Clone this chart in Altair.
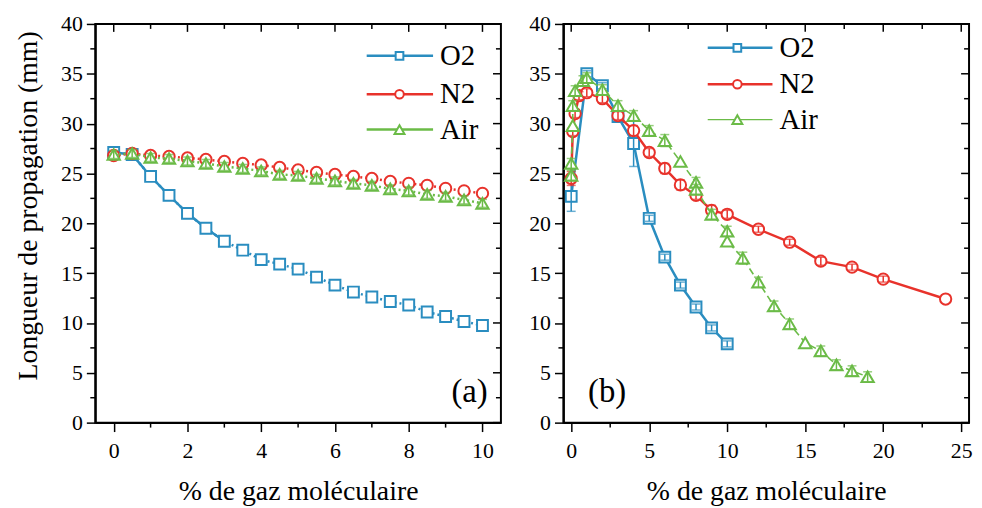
import altair as alt
import pandas as pd

FONT = "Liberation Serif"
SERIES = ["O2", "N2", "Air"]
COLORS = {"O2": "#2a8dc0", "N2": "#e8322b", "Air": "#6bbb47"}
SHAPES = {"O2": "square", "N2": "circle", "Air": "triangle-up"}
SIZES = {"O2": 120, "N2": 130, "Air": 155}
LEG_SIZES = {"O2": 60, "N2": 75, "Air": 100}

# ---------------- Panel (a) data ----------------
a_x = [0, 0.5, 1, 1.5, 2, 2.5, 3, 3.5, 4, 4.5, 5, 5.5, 6, 6.5, 7, 7.5, 8, 8.5, 9, 9.5, 10]
a_o2 = [27.1, 26.9, 24.7, 22.8, 21.0, 19.5, 18.2, 17.3, 16.35, 15.9, 15.4, 14.6, 13.8,
        13.1, 12.6, 12.15, 11.8, 11.1, 10.65, 10.15, 9.75]
a_n2 = [26.8, 27.0, 26.8, 26.7, 26.55, 26.4, 26.2, 26.0, 25.85, 25.6, 25.35, 25.1, 24.9,
        24.7, 24.5, 24.2, 24.0, 23.8, 23.5, 23.25, 23.0]
a_air = [26.9, 27.0, 26.6, 26.5, 26.25, 26.0, 25.7, 25.5, 25.25, 24.9, 24.8, 24.5, 24.25,
         24.0, 23.8, 23.45, 23.25, 22.9, 22.7, 22.35, 22.0]
a_o2_err = [0.0] * 21
a_n2_err = [0.0] * 21
a_air_err = [0.4] * 21

# ---------------- Panel (b) data ----------------
b_o2_x = [0, 1, 2, 3, 4, 5, 6, 7, 8, 9, 10]
b_o2_y = [22.7, 35.0, 33.8, 30.7, 28.0, 20.5, 16.6, 13.8, 11.6, 9.5, 7.9]
b_o2_err = [1.5, 0.3, 0.3, 0.3, 2.3, 0.3, 0.3, 0.3, 0.3, 0.3, 0.3]

b_n2_x = [0, 0.1, 0.25, 0.5, 1, 2, 3, 4, 5, 6, 7, 8, 9, 10, 12, 14, 16, 18, 20, 24]
b_n2_y = [24.5, 29.2, 31.0, 32.8, 33.1, 32.5, 30.8, 29.3, 27.1, 25.5, 23.85, 22.8, 21.3,
          20.9, 19.4, 18.1, 16.2, 15.6, 14.4, 12.4]
b_n2_err = [0.7, 0.4, 0.4, 0.4, 0.4, 0.4, 0.4, 0.5, 0.4, 0.5, 0.5, 0.4, 0.5, 0.4, 0.3,
            0.3, 0.4, 0.3, 0.3, 0.0]

b_air_x = [0, 0, 0.1, 0.1, 0.25, 0.75, 1, 2, 3, 4, 5, 6, 7, 8, 8, 9, 10, 10, 11, 12, 13,
           14, 15, 16, 17, 18, 19]
b_air_y = [24.8, 26.0, 29.8, 31.8, 33.3, 34.3, 34.6, 33.4, 31.8, 30.8, 29.3, 28.3, 26.2,
           24.1, 23.4, 20.9, 19.2, 18.2, 16.5, 14.1, 11.7, 9.9, 8.0, 7.2, 5.8, 5.2, 4.6]
b_air_err = [0.5, 0.5, 0.0, 0.5, 0.5, 0.5, 0.5, 0.5, 0.5, 0.5, 0.5, 0.6, 0.0, 0.5, 0.5,
             0.5, 0.5, 0.0, 0.6, 0.5, 0.5, 0.5, 0.0, 0.5, 0.5, 0.5, 0.5]

# ticks
a_x_major = [0, 2, 4, 6, 8, 10]
a_x_minor = [1, 3, 5, 7, 9]
b_x_major = [0, 5, 10, 15, 20, 25]
b_x_minor = [2.5, 7.5, 12.5, 17.5, 22.5]
y_major = [0, 5, 10, 15, 20, 25, 30, 35, 40]
y_minor = [2.5, 7.5, 12.5, 17.5, 22.5, 27.5, 32.5, 37.5]

# legend placement (data coords)
a_leg = {"x1": 6.86, "x2": 8.66, "xm": 7.75, "xl": 8.85, "y": [36.8, 32.95, 29.4]}
b_leg = {"x1": 8.75, "x2": 12.9, "xm": 10.65, "xl": 13.35, "y": [37.6, 33.95, 30.4]}

W, H = 409, 402


def make_df(x, y, e):
    return pd.DataFrame({"x": x, "y": y, "lo": [a - b for a, b in zip(y, e)],
                         "hi": [a + b for a, b in zip(y, e)], "i": list(range(len(x)))})


def panel(series_data, xdomain, xmajor, xminor, show_ytitle, leg, label, label_pos, dashes):
    xs = alt.Scale(domain=xdomain, nice=False, zero=False)
    ys = alt.Scale(domain=[0, 40], nice=False, zero=False)
    xaxis = alt.Axis(values=xmajor, title="% de gaz moléculaire", format="d",
                     tickSize=9, labelPadding=9, titlePadding=16)
    if show_ytitle:
        yaxis = alt.Axis(values=y_major, title="Longueur de propagation (mm)", tickSize=9,
                         labelPadding=4, titlePadding=18, titleY=183)
    else:
        yaxis = alt.Axis(values=y_major, title="", tickSize=9, labelPadding=4)

    def X(f):
        return alt.X(f"{f}:Q", scale=xs, axis=xaxis)

    def Y(f):
        return alt.Y(f"{f}:Q", scale=ys, axis=yaxis)

    layers = []
    for s in SERIES:
        df = series_data[s]
        col = COLORS[s]
        base = alt.Chart(df)
        style = dashes[s]
        for st in style:
            dsub = df if st.get("xmax") is None else df[df["x"] <= st["xmax"]]
            kw = dict(color=col, strokeWidth=st["w"])
            if st.get("dash"):
                kw["strokeDash"] = st["dash"]
            layers.append(alt.Chart(dsub).mark_line(**kw).encode(x=X("x"), y=Y("y"), order="i:Q"))
        layers.append(base.mark_point(shape=SHAPES[s], size=SIZES[s], filled=True, fill="white",
                                      stroke=col, strokeWidth=2, opacity=1)
                      .encode(x=X("x"), y=Y("y")))
        edf = df[df["hi"] > df["lo"]]
        if len(edf):
            layers.append(alt.Chart(edf).mark_rule(color=col, strokeWidth=1.5)
                          .encode(x=X("x"), y=Y("lo"), y2="hi"))
            layers.append(alt.Chart(edf).mark_tick(color=col, orient="horizontal", size=9,
                                                   thickness=1.5)
                          .encode(x=X("x"), y=Y("lo")))
            layers.append(alt.Chart(edf).mark_tick(color=col, orient="horizontal", size=9,
                                                   thickness=1.5)
                          .encode(x=X("x"), y=Y("hi")))

    # minor / mirrored ticks
    dxM = pd.DataFrame({"v": xmajor})
    dxm = pd.DataFrame({"v": xminor})
    dyM = pd.DataFrame({"v": y_major})
    dym = pd.DataFrame({"v": y_minor})
    rk = dict(color="black", strokeWidth=1.5)
    layers += [
        alt.Chart(dxm).mark_rule(**rk).encode(x=X("v"), y=alt.value(H), y2=alt.value(H + 5)),
        alt.Chart(dxM).mark_rule(**rk).encode(x=X("v"), y=alt.value(0), y2=alt.value(8)),
        alt.Chart(dxm).mark_rule(**rk).encode(x=X("v"), y=alt.value(0), y2=alt.value(5)),
        alt.Chart(dym).mark_rule(**rk).encode(y=Y("v"), x=alt.value(0), x2=alt.value(-5)),
        alt.Chart(dyM).mark_rule(**rk).encode(y=Y("v"), x=alt.value(W), x2=alt.value(W - 8)),
        alt.Chart(dym).mark_rule(**rk).encode(y=Y("v"), x=alt.value(W), x2=alt.value(W - 5)),
    ]

    # legend
    for s, yy in zip(SERIES, leg["y"]):
        ldf = pd.DataFrame({"x1": [leg["x1"]], "x2": [leg["x2"]], "xm": [leg["xm"]],
                            "xl": [leg["xl"]], "y": [yy], "t": [s]})
        lw = 1.5 if (s == "Air" and not show_ytitle) else 2.5
        layers.append(alt.Chart(ldf).mark_rule(color=COLORS[s], strokeWidth=lw)
                      .encode(x=X("x1"), x2="x2", y=Y("y")))
        layers.append(alt.Chart(ldf).mark_point(shape=SHAPES[s], size=LEG_SIZES[s], filled=True,
                                                fill="white", stroke=COLORS[s], strokeWidth=2,
                                                opacity=1)
                      .encode(x=X("xm"), y=Y("y")))
        layers.append(alt.Chart(ldf).mark_text(align="left", baseline="middle", font=FONT,
                                               fontSize=29, color="black")
                      .encode(x=X("xl"), y=Y("y"), text="t:N"))

    pdf = pd.DataFrame({"x": [label_pos[0]], "y": [label_pos[1]], "t": [label]})
    layers.append(alt.Chart(pdf).mark_text(align="center", baseline="middle", font=FONT,
                                           fontSize=33, color="black")
                  .encode(x=X("x"), y=Y("y"), text="t:N"))

    return alt.layer(*layers).properties(width=W, height=H)


a_data = {"O2": make_df(a_x, a_o2, a_o2_err), "N2": make_df(a_x, a_n2, a_n2_err),
          "Air": make_df(a_x, a_air, a_air_err)}
b_data = {"O2": make_df(b_o2_x, b_o2_y, b_o2_err), "N2": make_df(b_n2_x, b_n2_y, b_n2_err),
          "Air": make_df(b_air_x, b_air_y, b_air_err)}

a_styles = {
    "O2": [{"w": 2.5, "dash": [2, 3]}, {"w": 2.5, "xmax": 3}],
    "N2": [{"w": 2.5, "dash": [2, 3]}],
    "Air": [{"w": 2.5, "dash": [2, 3]}],
}
b_styles = {
    "O2": [{"w": 2.5}],
    "N2": [{"w": 2.5}],
    "Air": [{"w": 1.6, "dash": [7, 4]}],
}

left = panel(a_data, [-0.5, 10.5], a_x_major, a_x_minor, True, a_leg, "(a)", (9.65, 3.1), a_styles)
right = panel(b_data, [-0.5, 25.5], b_x_major, b_x_minor, False, b_leg, "(b)", (2.3, 3.1), b_styles)

chart = alt.hconcat(left, right, spacing=25).properties(
    padding={"left": 6, "top": 2, "right": 0, "bottom": 0}
).configure_axis(
    labelFont=FONT, labelFontSize=22, labelColor="black",
    titleFont=FONT, titleFontSize=28, titleFontWeight="normal", titleColor="black",
    tickColor="black", domainColor="black", tickWidth=1.5, domainWidth=2, grid=False,
).configure_view(stroke="black", strokeWidth=2)

chart.save("out.html", embed_options={"renderer": "svg", "actions": False})
